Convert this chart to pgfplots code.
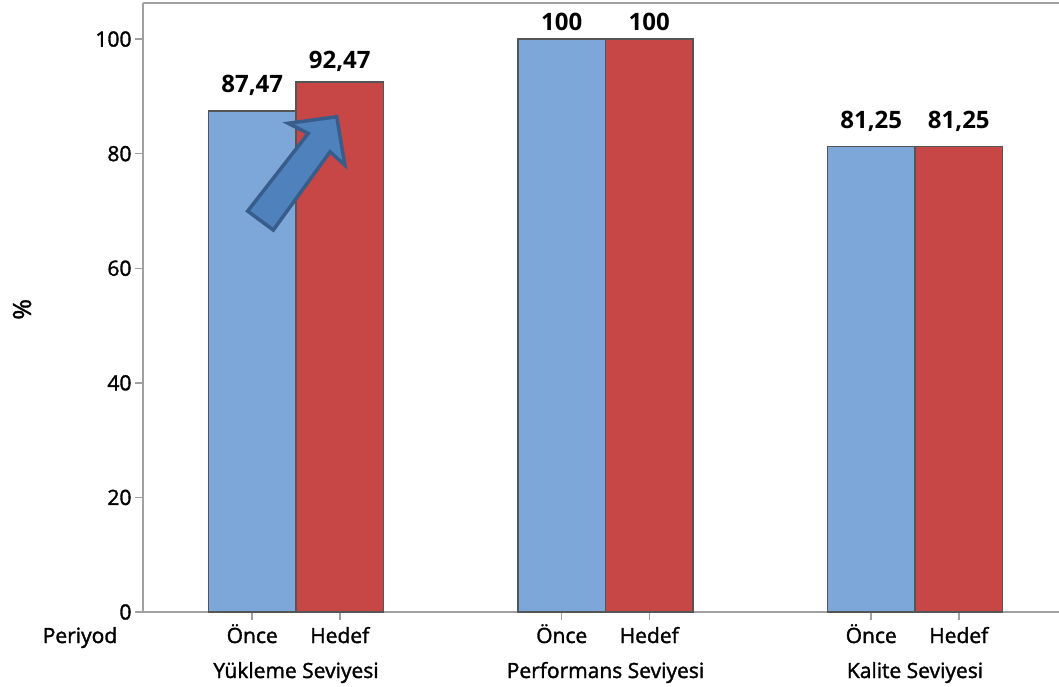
\documentclass[border=0pt]{standalone}
\usepackage{pgfplots}
\usepackage{pgfplotstable}
\pgfplotsset{compat=1.18}
\usepackage{fontspec}
\setmainfont{Open Sans}
\newfontfamily\lblfam{Open Sans}[FakeBold=1.6]
\definecolor{barblue}{RGB}{125,167,217}
\definecolor{barred}{RGB}{199,70,70}
\definecolor{baredge}{RGB}{85,85,85}
\definecolor{axgray}{RGB}{160,160,160}
\definecolor{arrowfill}{RGB}{79,129,189}
\definecolor{arrowedge}{RGB}{56,93,138}
\newcommand{\lblfont}{\lblfam\fontsize{21}{24}\selectfont}
\pgfplotstableread{
x y off
-0.1414 87.47 18
0.8586 100 9
1.8586 81.25 18
}\once
\pgfplotstableread{
x y off
0.1414 92.47 14
1.1414 100 9
2.1414 81.25 18
}\hedef
\begin{document}
\begin{tikzpicture}
\useasboundingbox (0,0) rectangle (1059pt,686pt);
\begin{axis}[
  name=ax,
  at={(143pt,74pt)}, anchor=south west,
  scale only axis, width=916pt, height=609pt,
  xmin=-0.4943, xmax=2.4653, ymin=0, ymax=106.3,
  axis x line=box, axis y line=left,
  axis line style={-, axgray, line width=1.5pt},
  xtick pos=bottom, ytick pos=left,
  ytick={0,20,...,100},
  tick align=outside, major tick length=8pt,
  tick style={axgray, line width=1.5pt},
  xtick={-0.1414,0.1414,0.8586,1.1414,1.8586,2.1414},
  xticklabels={Önce,Hedef,Önce,Hedef,Önce,Hedef},
  extra x ticks={0,1,2},
  extra x tick labels={Yükleme Seviyesi,Performans Seviyesi,Kalite Seviyesi},
  extra x tick style={major tick length=0pt, xticklabel style={yshift=-43pt}},
  ticklabel style={font=\lblfont, text=black},
  xticklabel style={anchor=base, yshift=-23pt},
  /pgf/number format/assume math mode=true,
  /pgf/number format/use comma,
  ylabel={\%},
  ylabel style={at={(rel axis cs:-0.132,0.497)}, anchor=center, font=\lblfam\fontsize{25}{28}\selectfont},
  ybar, bar width=0.2827, bar shift=0pt,
  visualization depends on={\thisrow{off}\as\off},
  nodes near coords,
  nodes near coords style={font=\bfseries\fontsize{24}{28}\selectfont, text=black, anchor=base, yshift=\off pt},
]
\addplot[fill=barblue, draw=baredge, line width=1.5pt] table[x=x, y=y] {\once};
\addplot[fill=barred, draw=baredge, line width=1.5pt] table[x=x, y=y] {\hedef};
\draw[arrowedge, fill=arrowfill, line width=3.5pt, line join=miter]
  (axis cs:-0.156,69.98) -- (axis cs:0.0397,83.54) -- (axis cs:-0.0249,85.3) -- (axis cs:0.1315,86.44)
  -- (axis cs:0.158,78.0) -- (axis cs:0.110,80.33) -- (axis cs:-0.0733,66.67) -- cycle;
\end{axis}
\node[font=\lblfont, anchor=base] at ([xshift=-63pt, yshift=-31pt]ax.south west) {Periyod};
\end{tikzpicture}
\end{document}
